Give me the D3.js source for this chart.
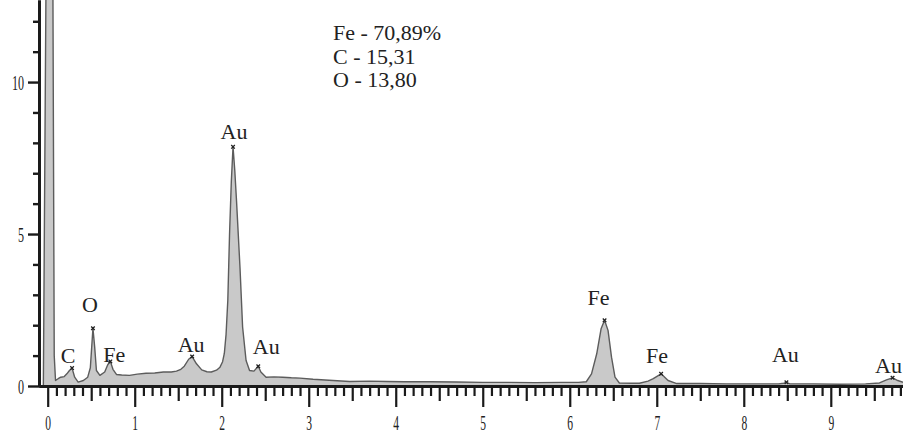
<!DOCTYPE html>
<html>
<head>
<meta charset="utf-8">
<script src="https://cdn.jsdelivr.net/npm/d3@7"></script>
<style>
  body { margin: 0; background: #fff; }
  svg { display: block; }
</style>
</head>
<body>
<div id="chart"></div>
<script>
// EDS spectrum, energy in keV, counts
const energies = [
  -0.05, -0.02, 0.00, 0.04, 0.06, 0.075, 0.09, 0.12, 0.15, 0.19,
  0.22, 0.25, 0.28, 0.31, 0.35, 0.41, 0.46, 0.49, 0.52, 0.54,
  0.56, 0.60, 0.655, 0.69, 0.72, 0.75, 0.79, 0.85, 0.94, 1.03,
  1.13, 1.23, 1.33, 1.42, 1.48, 1.53, 1.57, 1.62, 1.66, 1.71,
  1.77, 1.83, 1.88, 1.94, 1.98, 2.01, 2.03, 2.05, 2.07, 2.09,
  2.11, 2.13, 2.15, 2.17, 2.21, 2.24, 2.28, 2.32, 2.37, 2.42,
  2.45, 2.51, 2.60, 2.70, 2.80, 2.90, 3.05, 3.28, 3.47, 3.70,
  3.90, 4.10, 4.40, 4.70, 5.00, 5.30, 5.60, 5.90, 6.10, 6.19,
  6.25, 6.31, 6.36, 6.40, 6.44, 6.48, 6.52, 6.57, 6.70, 6.80,
  6.90, 6.96, 7.05, 7.13, 7.23, 7.50, 7.80, 8.10, 8.40, 8.46,
  8.49, 8.53, 8.80, 9.10, 9.40, 9.56, 9.64, 9.71, 9.77, 9.83
];
const counts = [
  0.00, 13.0, 30.0, 30.0, 13.0, 1.00, 0.18, 0.24, 0.29, 0.31,
  0.40, 0.51, 0.59, 0.29, 0.13, 0.18, 0.29, 0.60, 1.90, 1.28,
  0.51, 0.35, 0.46, 0.70, 0.81, 0.55, 0.38, 0.36, 0.35, 0.39,
  0.42, 0.43, 0.46, 0.46, 0.49, 0.55, 0.65, 0.88, 0.97, 0.73,
  0.53, 0.47, 0.46, 0.52, 0.62, 0.80, 1.07, 1.70, 2.82, 5.00,
  6.70, 7.87, 7.10, 6.10, 3.90, 1.94, 0.84, 0.51, 0.49, 0.65,
  0.46, 0.29, 0.30, 0.29, 0.27, 0.26, 0.22, 0.18, 0.15, 0.16,
  0.15, 0.14, 0.14, 0.13, 0.12, 0.12, 0.11, 0.12, 0.12, 0.14,
  0.40, 1.06, 1.88, 2.16, 1.83, 0.95, 0.29, 0.10, 0.09, 0.09,
  0.16, 0.24, 0.40, 0.18, 0.08, 0.08, 0.07, 0.07, 0.07, 0.09,
  0.12, 0.07, 0.07, 0.06, 0.07, 0.10, 0.20, 0.27, 0.18, 0.12
];

// identified lines
const lineNames = ["C", "O", "Fe", "Au", "Au", "Au", "Fe", "Fe", "Au", "Au"];
const lineEnergies = [0.28, 0.52, 0.72, 1.66, 2.13, 2.42, 6.40, 7.05, 8.49, 9.71];
const lineCounts = [0.59, 1.90, 0.81, 0.97, 7.87, 0.65, 2.16, 0.40, 0.12, 0.27];

// composition box
const summary = ["Fe - 70,89%", "C - 15,31", "O - 13,80"];

// axis ticks
const xMajorTicks = [0, 1, 2, 3, 4, 5, 6, 7, 8, 9];
const yMajorTicks = [0, 5, 10];
const yMinorTicks = [1, 2, 3, 4, 6, 7, 8, 9, 11, 12];

const width = 903, height = 434;
const serif = "'Liberation Serif', 'Times New Roman', serif";

const svg = d3.select("#chart").append("svg")
  .attr("width", width)
  .attr("height", height);

const x = d3.scaleLinear().domain([-0.1, 9.83]).range([39, 903]);
const y = d3.scaleLinear().domain([0, 12.7]).range([386, 0]);

const spectrum = energies.map((e, i) => ({ e: e, c: counts[i] }));

svg.append("clipPath").attr("id", "plot-clip")
  .append("rect")
  .attr("x", x.range()[0]).attr("y", 0)
  .attr("width", x.range()[1] - x.range()[0])
  .attr("height", y(0));

const plot = svg.append("g").attr("clip-path", "url(#plot-clip)");

plot.append("path")
  .datum(spectrum)
  .attr("fill", "#c9c9c9")
  .attr("d", d3.area()
    .x(d => x(d.e))
    .y0(y(0))
    .y1(d => y(d.c)));

plot.append("path")
  .datum(spectrum)
  .attr("fill", "none")
  .attr("stroke", "#5c5c5c")
  .attr("stroke-width", 1.4)
  .attr("stroke-linejoin", "round")
  .attr("d", d3.line()
    .x(d => x(d.e))
    .y(d => y(d.c)));

// little marks on the peak tops
plot.selectAll(".peak-mark")
  .data(lineEnergies)
  .enter().append("path")
  .attr("class", "peak-mark")
  .attr("transform", (d, i) => "translate(" + x(d) + "," + y(lineCounts[i]) + ")")
  .attr("d", d3.symbol(d3.symbolX, 10))
  .attr("fill", "none")
  .attr("stroke", "#222")
  .attr("stroke-width", 1.3);

// label nudges in px, so the names sit where the original put them
// (last one pulled in a little so it stays inside the frame)
const labelShift = [[-4, -5], [-3, -16], [4, 1], [-1, -5], [1, -8],
  [8, -12], [-6, -15], [-4, -11], [-1, -20], [-4, -5]];

svg.selectAll(".line-label")
  .data(lineNames)
  .enter().append("text")
  .attr("class", "line-label")
  .attr("x", (d, i) => x(lineEnergies[i]) + labelShift[i][0])
  .attr("y", (d, i) => y(lineCounts[i]) + labelShift[i][1])
  .attr("text-anchor", "middle")
  .attr("font-family", serif)
  .attr("font-size", 22)
  .attr("fill", "#222")
  .text(d => d);

svg.selectAll(".summary")
  .data(summary)
  .enter().append("text")
  .attr("class", "summary")
  .attr("x", 333)
  .attr("y", (d, i) => 40 + i * 23.5)
  .attr("font-family", serif)
  .attr("font-size", 22)
  .attr("fill", "#222")
  .text(d => d);

// ---- x axis ----
const xMinorTicks = d3.range(1, 99).map(v => v / 10).filter(v => v % 1 !== 0);
const xAxisG = svg.append("g").attr("transform", "translate(0," + y(0) + ")");

xAxisG.append("g")
  .call(d3.axisBottom(x).tickValues(xMinorTicks.filter(v => Math.abs(v % 1 - 0.5) > 1e-6))
    .tickSize(10).tickSizeOuter(0).tickFormat(""));
xAxisG.append("g")
  .call(d3.axisBottom(x).tickValues(xMinorTicks.filter(v => Math.abs(v % 1 - 0.5) < 1e-6))
    .tickSize(15).tickSizeOuter(0).tickFormat(""));
xAxisG.append("g")
  .call(d3.axisBottom(x).tickValues(xMajorTicks)
    .tickSize(21).tickSizeOuter(0).tickPadding(8).tickFormat(d3.format("d")));

xAxisG.selectAll(".domain").attr("stroke", "#1a1a1a").attr("stroke-width", 3);
xAxisG.selectAll(".tick line").attr("stroke", "#1a1a1a").attr("stroke-width", 2.2);
xAxisG.selectAll(".tick text")
  .attr("font-family", serif)
  .attr("font-size", 21)
  .attr("fill", "#222")
  .attr("transform", "scale(0.55,1)");

// ---- y axis ----
const yAxisG = svg.append("g").attr("transform", "translate(" + x.range()[0] + ",0)");

yAxisG.append("g")
  .call(d3.axisLeft(y).tickValues(yMinorTicks).tickSize(6).tickSizeOuter(0).tickFormat(""));
yAxisG.append("g")
  .call(d3.axisLeft(y).tickValues(yMajorTicks).tickSize(11).tickSizeOuter(0).tickFormat(d3.format("d")));

yAxisG.selectAll(".domain").attr("stroke", "#1a1a1a").attr("stroke-width", 3);
yAxisG.selectAll(".tick line").attr("stroke", "#1a1a1a").attr("stroke-width", 2.4);
yAxisG.selectAll(".tick text")
  .attr("font-family", serif)
  .attr("font-size", 22)
  .attr("fill", "#222")
  .attr("x", -15 / 0.55)
  .attr("transform", "scale(0.55,1)");
</script>
</body>
</html>
